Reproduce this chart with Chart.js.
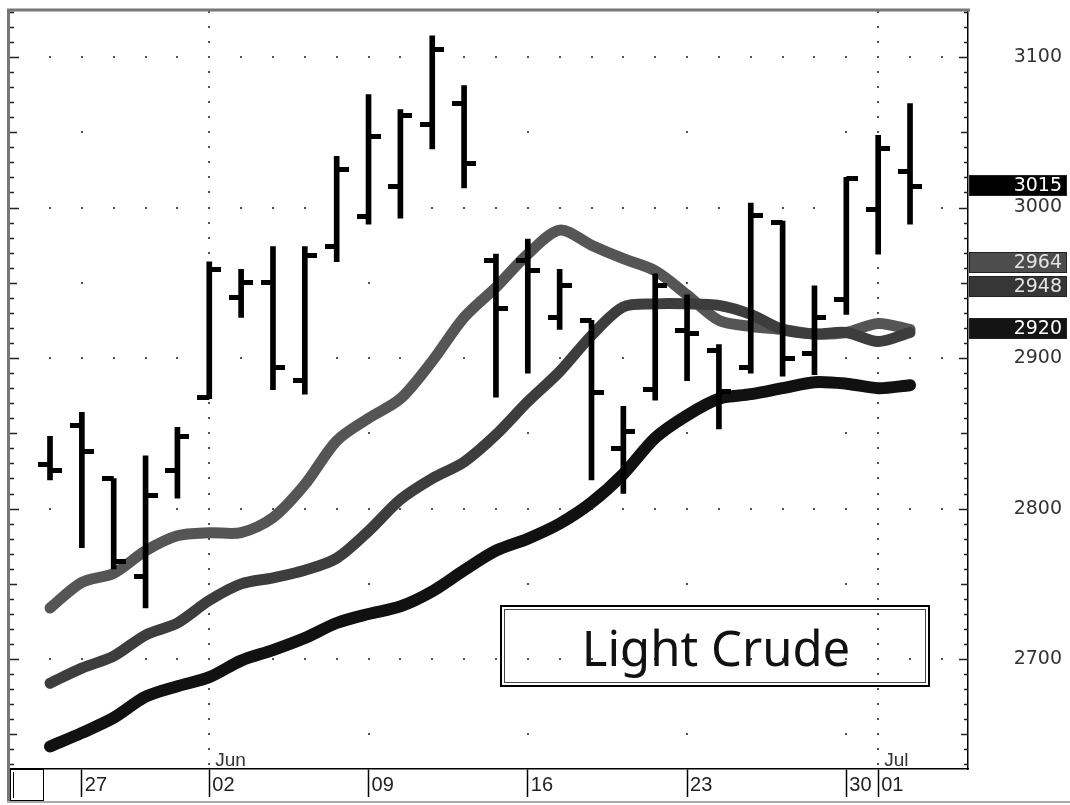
<!DOCTYPE html>
<html lang="en">
<head>
<meta charset="UTF-8">
<title>Light Crude</title>
<style>
  html, body { margin: 0; padding: 0; background: #fff; }
  #mychart { display: block; }
</style>
</head>
<body>
<canvas id="mychart" width="1070" height="805"></canvas>

<script src="https://cdn.jsdelivr.net/npm/chart.js@4.4.1/dist/chart.umd.min.js"></script>
<script>
// trading days 23 May - 02 Jul (index = position on the x axis)
var days = ['05-23', '05-27', '05-28', '05-29', '05-30',
            '06-02', '06-03', '06-04', '06-05', '06-06',
            '06-09', '06-10', '06-11', '06-12', '06-13',
            '06-16', '06-17', '06-18', '06-19', '06-20',
            '06-23', '06-24', '06-25', '06-26', '06-27',
            '06-30', '07-01', '07-02'];

// daily bars
var opens  = [2829, 2855, 2820, 2755, 2825, 2874, 2940, 2950, 2885, 2974, 2994, 3014, 3055, 3069, 2965, 2965, 2927, 2925, 2840, 2879, 2918, 2905, 2894, 2990, 2903, 2939, 2999, 3024];
var highs  = [2848, 2864, 2820, 2835, 2854, 2964, 2959, 2974, 2974, 3034, 3075, 3065, 3114, 3081, 2969, 2979, 2959, 2925, 2868, 2956, 2942, 2909, 3003, 2991, 2948, 3020, 3048, 3069];
var lows   = [2819, 2774, 2760, 2734, 2807, 2873, 2927, 2879, 2876, 2964, 2989, 2993, 3039, 3013, 2874, 2890, 2919, 2819, 2810, 2872, 2885, 2853, 2890, 2888, 2889, 2929, 2969, 2989];
var closes = [2825, 2838, 2765, 2809, 2848, 2959, 2950, 2894, 2968, 3025, 3047, 3061, 3105, 3029, 2933, 2958, 2948, 2877, 2851, 2948, 2916, 2878, 2995, 2900, 2927, 3019, 3039, 3014];

// moving averages
var maFast = [2734, 2751, 2757, 2772, 2782, 2784, 2784, 2794, 2816, 2845, 2860, 2873, 2898, 2927, 2947, 2969, 2985, 2975, 2966, 2958, 2942, 2925, 2921, 2919, 2916, 2917, 2923, 2919];
var maMid  = [2684, 2694, 2702, 2716, 2724, 2739, 2750, 2754, 2759, 2767, 2785, 2806, 2820, 2831, 2849, 2871, 2891, 2915, 2934, 2936, 2936, 2935, 2929, 2919, 2916, 2917, 2911, 2917];
var maSlow = [2642, 2651, 2661, 2675, 2682, 2688, 2699, 2706, 2714, 2724, 2730, 2735, 2745, 2759, 2772, 2780, 2790, 2804, 2823, 2847, 2862, 2873, 2876, 2880, 2884, 2883, 2880, 2882];

// axes
var xTickIdx = [1, 5, 10, 15, 20, 25, 26];
var xTickLabels = ['27', '02', '09', '16', '23', '30', '01'];
var weekIdx = [1, 5, 10, 15, 20, 25];
var monthIdx = [5, 26];
var monthLabels = ['Jun', 'Jul'];
var yTicks = [2700, 2800, 2900, 3000, 3100];

// last value boxes on the price axis
var lastVals = [3015, 2964, 2948, 2920];
var lastBg = ['#000000', '#4d4d4d', '#363636', '#141414'];
var lastFg = ['#ffffff', '#e4e4e4', '#e4e4e4', '#ffffff'];

function xy(arr) {
    return arr.map(function (v, i) { return { x: i, y: v }; });
}

// little open/close ticks used as point images
function tickImg(side) {
    var c = document.createElement('canvas');
    c.width = 24;
    c.height = 5;
    var g = c.getContext('2d');
    g.fillStyle = '#000';
    g.fillRect(side === 'left' ? 0 : 12, 0, 12, 5);
    return c;
}

var decor = {
    id: 'decor',
    beforeDatasetsDraw: function (chart) {
        var ctx = chart.ctx, xs = chart.scales.x, ys = chart.scales.y;
        ctx.save();
        ctx.fillStyle = '#555';
        function dot(i, v) {
            var px = Math.round(xs.getPixelForValue(i));
            var py = Math.round(ys.getPixelForValue(v));
            ctx.fillRect(px - 1, py - 1, 2, 2);
        }
        yTicks.forEach(function (v) {
            for (var i = 0; i <= days.length; i++) dot(i, v);
        });
        weekIdx.forEach(function (i) {
            for (var v = 2650; v <= 3100; v += 50) dot(i, v);
        });
        monthIdx.forEach(function (i) {
            for (var v = 2630; v <= 3130; v += 10) dot(i, v);
        });
        ctx.restore();
    },
    afterDraw: function (chart) {
        var ctx = chart.ctx, xs = chart.scales.x, ys = chart.scales.y, a = chart.chartArea;
        ctx.save();

        // outer frame
        ctx.strokeStyle = '#777';
        ctx.lineWidth = 3;
        ctx.beginPath();
        ctx.moveTo(a.left - 1.5, 803);
        ctx.lineTo(a.left - 1.5, a.top - 1.5);
        ctx.lineTo(a.right + 2, a.top - 1.5);
        ctx.stroke();
        ctx.strokeStyle = '#aaa';
        ctx.lineWidth = 2;
        ctx.beginPath();
        ctx.moveTo(a.left - 3, 802);
        ctx.lineTo(1070, 802);
        ctx.stroke();

        // price ticks on both sides
        ctx.strokeStyle = '#222';
        ctx.lineWidth = 1.5;
        for (var v = 2630; v <= 3130; v += 10) {
            var py = Math.round(ys.getPixelForValue(v)) + 0.5;
            var len = v % 100 === 0 ? 9 : (v % 50 === 0 ? 7 : 4);
            ctx.beginPath();
            ctx.moveTo(a.left, py);
            ctx.lineTo(a.left + len, py);
            ctx.moveTo(a.right, py);
            ctx.lineTo(a.right - len, py);
            ctx.stroke();
        }

        // small box at the bottom left
        ctx.strokeStyle = '#000';
        ctx.lineWidth = 1;
        ctx.fillStyle = '#fff';
        ctx.fillRect(a.left, a.bottom + 1, 33, 31);
        ctx.strokeRect(a.left + 0.5, a.bottom + 0.5, 33, 31);
        ctx.beginPath();
        ctx.moveTo(a.left + 3.5, a.bottom + 3);
        ctx.lineTo(a.left + 3.5, a.bottom + 29);
        ctx.stroke();

        // month names
        ctx.fillStyle = '#333';
        ctx.font = '19px "Liberation Sans", Arial, sans-serif';
        ctx.textAlign = 'left';
        ctx.textBaseline = 'alphabetic';
        monthIdx.forEach(function (i, k) {
            ctx.fillText(monthLabels[k], xs.getPixelForValue(i) + 6, 766);
        });

        // title box
        ctx.strokeStyle = '#000';
        ctx.lineWidth = 2;
        ctx.strokeRect(501, 606, 428, 80);
        ctx.lineWidth = 1;
        ctx.strokeStyle = '#444';
        ctx.strokeRect(504.5, 609.5, 421, 73);
        ctx.fillStyle = '#111';
        ctx.font = '49px "Noto Sans", "DejaVu Sans", sans-serif';
        ctx.textAlign = 'center';
        ctx.fillText('Light Crude', 716, 666);

        // last value boxes
        ctx.font = '19px "DejaVu Sans", sans-serif';
        ctx.textAlign = 'right';
        ctx.textBaseline = 'middle';
        lastVals.forEach(function (val, k) {
            var cy = Math.round(ys.getPixelForValue(val));
            ctx.fillStyle = lastBg[k];
            ctx.fillRect(a.right + 1, cy - 10, 98, 21);
            ctx.strokeStyle = '#222';
            ctx.lineWidth = 1;
            ctx.strokeRect(a.right + 1.5, cy - 9.5, 97, 20);
            ctx.fillStyle = lastFg[k];
            ctx.fillText(String(val), 1062, cy + 1);
        });

        ctx.restore();
    }
};

var ctx = document.getElementById('mychart');

var mychart = new Chart(ctx, {
    type: 'line',
    data: {
        datasets: [
            {
                type: 'scatter',
                data: xy(opens),
                pointStyle: tickImg('left'),
                pointRadius: 5,
                showLine: false,
                order: 0
            },
            {
                type: 'scatter',
                data: xy(closes),
                pointStyle: tickImg('right'),
                pointRadius: 5,
                showLine: false,
                order: 0
            },
            {
                type: 'bar',
                data: highs.map(function (h, i) { return { x: i, y: [lows[i], h] }; }),
                backgroundColor: '#000',
                borderWidth: 0,
                barThickness: 5,
                grouped: false,
                order: 0
            },
            {
                data: xy(maSlow),
                borderColor: '#111111',
                borderWidth: 12,
                pointRadius: 0,
                tension: 0.3,
                borderCapStyle: 'round',
                borderJoinStyle: 'round',
                order: 1
            },
            {
                data: xy(maMid),
                borderColor: '#3d3d3d',
                borderWidth: 11,
                pointRadius: 0,
                tension: 0.3,
                borderCapStyle: 'round',
                borderJoinStyle: 'round',
                order: 2
            },
            {
                data: xy(maFast),
                borderColor: '#555555',
                borderWidth: 11,
                pointRadius: 0,
                tension: 0.3,
                borderCapStyle: 'round',
                borderJoinStyle: 'round',
                order: 3
            }
        ]
    },
    options: {
        responsive: false,
        devicePixelRatio: 1,
        animation: false,
        layout: { padding: { left: 10, top: 8, right: 8, bottom: 0 } },
        plugins: {
            legend: { display: false },
            tooltip: { enabled: false }
        },
        scales: {
            x: {
                type: 'linear',
                position: 'bottom',
                min: -1.256,
                max: 28.82,
                offset: false,
                afterBuildTicks: function (s) {
                    s.ticks = xTickIdx.map(function (v) { return { value: v }; });
                },
                afterFit: function (s) { s.height = 36; },
                grid: {
                    offset: false,
                    drawOnChartArea: false,
                    drawTicks: true,
                    tickLength: 28,
                    tickColor: '#000',
                    tickWidth: 1.5
                },
                border: { display: true, color: '#000', width: 1.5 },
                ticks: {
                    autoSkip: false,
                    maxRotation: 0,
                    align: 'start',
                    labelOffset: 3,
                    padding: -24,
                    color: '#222',
                    font: { family: '"Liberation Sans", Arial, sans-serif', size: 20 },
                    callback: function (value) {
                        var k = xTickIdx.indexOf(value);
                        return k < 0 ? '' : xTickLabels[k];
                    }
                }
            },
            y: {
                type: 'linear',
                position: 'right',
                min: 2627,
                max: 3130.3,
                afterBuildTicks: function (s) {
                    s.ticks = yTicks.map(function (v) { return { value: v }; });
                },
                afterFit: function (s) { s.width = 94; },
                grid: { display: false },
                border: { display: true, color: '#000', width: 1.5 },
                ticks: {
                    crossAlign: 'far',
                    padding: 0,
                    color: '#333',
                    font: { family: '"DejaVu Sans", sans-serif', size: 19 },
                    callback: function (value) { return String(value); }
                }
            }
        }
    },
    plugins: [decor]
});
</script>
</body>
</html>
